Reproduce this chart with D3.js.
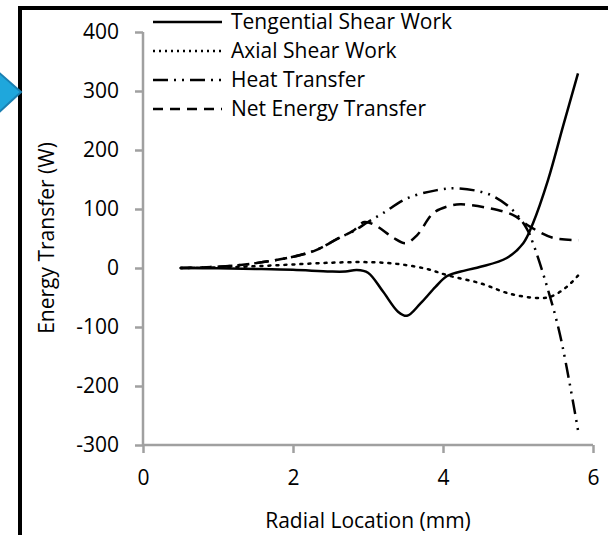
<!DOCTYPE html>
<html><head><meta charset="utf-8">
<script src="https://cdn.jsdelivr.net/npm/d3@7"></script>
<style>body{margin:0;background:#fff}svg{display:block}text{font-family:"Open Sans",sans-serif;fill:#000}</style>
</head><body><svg id="c" width="608" height="535"></svg>
<script>
const seriesNames = ["Tengential Shear Work","Axial Shear Work","Heat Transfer","Net Energy Transfer"];
const xTicks = [0,2,4,6];
const yTicks = [-300,-200,-100,0,100,200,300,400];
const tangX = [0.5,1.0,1.5,2.0,2.5,2.7,2.85,3.0,3.2,3.4,3.52,3.7,3.9,4.05,4.3,4.5,4.85,5.07,5.2,5.4,5.6,5.8];
const tangY = [0,-0.5,-1.5,-3,-6,-6,-3.5,-8,-40,-74,-81,-60,-32,-14,-4,2,17,42,76,149,240,330];
const axX = [0.5,1.0,1.5,2.0,2.5,2.9,3.2,3.5,3.8,4.05,4.5,4.9,5.3,5.45,5.65,5.8];
const axY = [0,1,3,6,9,10,9,5,-2,-12,-26,-44,-51,-48,-32,-13];
const heatX = [0.5,1.0,1.3,1.6,2.0,2.3,2.63,2.8,3.0,3.2,3.52,3.92,4.2,4.63,4.93,5.12,5.2,5.36,5.56,5.8];
const heatY = [0,2,5,10,19,30,52,62,78,93,118,132,135,124,98,66,42,-20,-113,-275];
const netX = [0.5,1.0,1.3,1.6,2.0,2.3,2.63,2.8,2.95,3.1,3.33,3.5,3.65,3.87,4.05,4.23,4.63,4.93,5.16,5.47,5.81];
const netY = [0,2,5,10,19,30,52,63,78,72,52,42,55,93,104,108,101,90,70,51,47];

const svg = d3.select("#c");
const x = d3.scaleLinear().domain([0,6]).range([143,593]);
const y = d3.scaleLinear().domain([-300,400]).range([445,32]);
const axisColor = "#a0a0a0";
const fs = 21;

// frame
svg.append("line").attr("x1",20).attr("x2",20).attr("y1",6).attr("y2",535).attr("stroke","#000").attr("stroke-width",4);
svg.append("line").attr("x1",18).attr("x2",608).attr("y1",8).attr("y2",8).attr("stroke","#000").attr("stroke-width",4);
svg.append("path").attr("d","M-4,70 L21,92 L-4,115 Z").attr("fill","#1fa7dc").attr("stroke","#1a80b2").attr("stroke-width",2);

// axes
const yAxis = svg.append("g").attr("transform","translate(143,0)")
  .call(d3.axisLeft(y).tickValues(yTicks).tickSize(8).tickPadding(16).tickFormat(d=>String(d)));
const xAxis = svg.append("g").attr("transform","translate(0,445)")
  .call(d3.axisBottom(x).tickValues(xTicks).tickSize(8).tickPadding(17).tickFormat(d=>String(d)));
[yAxis,xAxis].forEach(g=>{
  g.select(".domain").attr("stroke",axisColor).attr("stroke-width",2.5);
  g.selectAll(".tick line").attr("stroke",axisColor).attr("stroke-width",2.5);
  g.selectAll(".tick text").attr("font-size",fs).attr("font-family","Open Sans").attr("fill","#000");
});
yAxis.select(".domain").attr("d","M0,32V445");
xAxis.select(".domain").attr("d","M143,0H593");

svg.append("text").attr("x",368).attr("y",528).attr("text-anchor","middle").attr("font-size",fs).text("Radial Location (mm)");
svg.append("text").attr("transform","translate(54,238) rotate(-90)").attr("text-anchor","middle").attr("font-size",fs).text("Energy Transfer (W)");

const styles = [
  {dash:null, lw:2.5},
  {dash:"2,6", lw:2.5, cap:"round"},
  {dash:"15,6,2,6,2,6", lw:2.5},
  {dash:"12,7", lw:2.5}
];
const legendDash = [null,"2,4","15,6,2,6,2,6","10,7"];
const data = [[tangX,tangY],[axX,axY],[heatX,heatY],[netX,netY]];
const line = d3.line().x(d=>x(d[0])).y(d=>y(d[1])).curve(d3.curveCatmullRom.alpha(0.5));
data.forEach((s,i)=>{
  const pts = s[0].map((v,j)=>[v,s[1][j]]);
  const p = svg.append("path").datum(pts).attr("d",line).attr("fill","none").attr("stroke","#000").attr("stroke-width",styles[i].lw);
  if(styles[i].dash) p.attr("stroke-dasharray",styles[i].dash);
  if(styles[i].cap) p.attr("stroke-linecap",styles[i].cap);
});

// legend
const legY = [22,51,80,109];
seriesNames.forEach((n,i)=>{
  const l = svg.append("line").attr("x1",153).attr("x2",222).attr("y1",legY[i]).attr("y2",legY[i]).attr("stroke","#000").attr("stroke-width",2.5);
  if(legendDash[i]) l.attr("stroke-dasharray",legendDash[i]);
  svg.append("text").attr("x",231).attr("y",legY[i]).attr("dy","0.35em").attr("font-size",fs).text(n);
});
</script></body></html>
